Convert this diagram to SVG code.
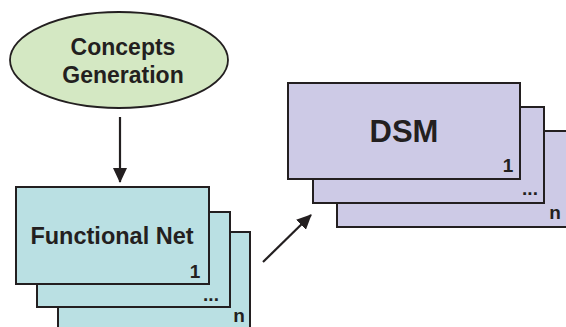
<svg xmlns="http://www.w3.org/2000/svg" width="566" height="327" viewBox="0 0 566 327">
<defs>
<style>
.t{font-family:"Liberation Sans",Arial,sans-serif;font-weight:bold;fill:#231f20}
.fn{fill:#bae0e3;stroke:#231f20;stroke-width:2}
.ds{fill:#cdcae6;stroke:#231f20;stroke-width:2}
.c{stroke:#231f20;stroke-width:2.2;fill:none}
</style>
<marker id="ah" markerWidth="15" markerHeight="14" refX="14" refY="7" orient="auto" markerUnits="userSpaceOnUse" viewBox="0 0 15 14">
<path d="M0,0 L15,7 L0,14 Z" fill="#231f20"/>
</marker>
</defs>
<g id="concepts">
<ellipse cx="119" cy="60" rx="109" ry="48" fill="#d4e8c3" stroke="#231f20" stroke-width="1.8"/>
<text class="t" x="123" y="55" font-size="23" text-anchor="middle">Concepts</text>
<text class="t" x="123" y="83" font-size="23" text-anchor="middle">Generation</text>
</g>
<g id="functional-net">
<rect class="fn" x="58" y="232" width="192" height="100"/>
<rect class="fn" x="37" y="212" width="193" height="95"/>
<rect class="fn" x="16" y="187" width="193" height="97"/>
<text class="t" x="112" y="244" font-size="23.5" text-anchor="middle">Functional Net</text>
<text class="t" x="195" y="278" font-size="19" text-anchor="middle">1</text>
<text class="t" x="211" y="301" font-size="19" text-anchor="middle">...</text>
<text class="t" x="239" y="322" font-size="19" text-anchor="middle">n</text>
</g>
<g id="dsm">
<rect class="ds" x="337" y="131" width="232" height="96"/>
<rect class="ds" x="313" y="107" width="231" height="96"/>
<rect class="ds" x="288" y="83" width="232" height="96"/>
<text class="t" x="404" y="142" font-size="31" text-anchor="middle">DSM</text>
<text class="t" x="508" y="172" font-size="19" text-anchor="middle">1</text>
<text class="t" x="530" y="195" font-size="19" text-anchor="middle">...</text>
<text class="t" x="555" y="219" font-size="19" text-anchor="middle">n</text>
</g>
<g id="connectors">
<line class="c" x1="120" y1="117" x2="120" y2="182" marker-end="url(#ah)"/>
<line class="c" x1="263" y1="262" x2="311" y2="215" marker-end="url(#ah)"/>
</g>
</svg>
